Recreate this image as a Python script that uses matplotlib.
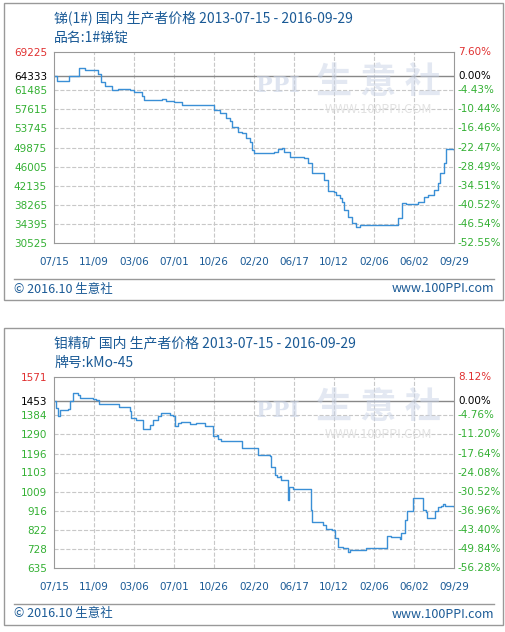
import matplotlib.pyplot as plt
from matplotlib.patches import Rectangle
from matplotlib.lines import Line2D

plt.rcParams['font.family'] = ['Noto Sans CJK SC', 'DejaVu Sans']

date_labels = ['07/15', '11/09', '03/06', '07/01', '10/26', '02/20', '06/17', '10/12', '02/06', '06/02', '09/29']

# panel 1: 锑(1#)
sb_x = [0, 0.08, 0.37, 0.62, 0.78, 1.0, 1.1, 1.18, 1.27, 1.45, 1.6, 1.9, 2.0, 2.2, 2.25, 2.7, 2.8, 3.0,
        3.2, 3.95, 4.0, 4.15, 4.3, 4.4, 4.45, 4.6, 4.7, 4.8, 4.9, 4.95, 5.0, 5.4, 5.5, 5.6, 5.7, 5.75, 5.9,
        6.25, 6.35, 6.45, 6.75, 6.85, 7.0, 7.05, 7.15, 7.2, 7.25, 7.35, 7.45, 7.55, 7.65, 8.2, 8.5, 8.6, 8.7,
        8.8, 9.1, 9.25, 9.35, 9.5, 9.6, 9.65, 9.75, 9.8, 9.95, 10.0]
sb_y = [64333, 63407, 64333, 65970, 65640, 65500, 64830, 63070, 62320, 61580, 61700, 61450, 61040, 60360,
        59550, 59700, 59200, 59070, 58530, 58530, 57520, 56840, 55830, 55150, 54000, 52990, 52780, 51770,
        51090, 49400, 48720, 48720, 49060, 49530, 49740, 49060, 47910, 47710, 46700, 44670, 43310, 41150,
        40950, 40270, 39590, 38920, 37220, 35870, 34520, 33840, 34180, 34180, 34180, 35550, 38580, 38380,
        38920, 39930, 40270, 41290, 42780, 44670, 46700, 49530, 49660, 49400]
sb_ticks = [69225, 64333, 61485, 57615, 53745, 49875, 46005, 42135, 38265, 34395, 30525]
sb_pct = ['7.60%', '0.00%', '-4.43%', '-10.44%', '-16.46%', '-22.47%', '-28.49%', '-34.51%', '-40.52%', '-46.54%', '-52.55%']

# panel 2: 钼精矿
mo_px = [163, 170, 175, 180, 205, 210, 220, 235, 242, 280, 290, 297, 355, 357, 385, 390, 395, 410, 430, 447,
         450, 460, 475, 485, 505, 512, 520, 525, 535, 545, 570, 590, 615, 637, 640, 652, 655, 665, 725, 728,
         772, 775, 805, 812, 815, 825, 832, 840, 845, 865, 866, 868, 880, 928, 935, 938, 965, 970, 978, 998,
         1005, 1015, 1030, 1045, 1050, 1100, 1155, 1162, 1175, 1200, 1205, 1215, 1222, 1238, 1240, 1265,
         1270, 1278, 1282, 1305, 1315, 1325, 1330, 1335, 1362]
mo_y = [1453, 1419, 1378, 1407, 1414, 1452, 1492, 1484, 1468, 1463, 1456, 1438, 1438, 1424, 1424, 1402,
        1370, 1358, 1316, 1316, 1337, 1362, 1378, 1394, 1394, 1386, 1378, 1329, 1344, 1350, 1342, 1345,
        1329, 1329, 1283, 1288, 1267, 1255, 1255, 1222, 1222, 1190, 1190, 1182, 1132, 1092, 1083, 1086,
        1064, 1064, 969, 1032, 1021, 1021, 920, 862, 862, 846, 825, 822, 781, 740, 732, 715, 723, 732, 732,
        792, 786, 776, 805, 871, 912, 912, 977, 977, 920, 908, 879, 912, 933, 939, 949, 939, 936]
mo_x = [(p - 163) / 120 for p in mo_px]
mo_ticks = [1571, 1453, 1384, 1290, 1196, 1103, 1009, 916, 822, 728, 635]
mo_pct = ['8.12%', '0.00%', '-4.76%', '-11.20%', '-17.64%', '-24.08%', '-30.52%', '-36.96%', '-43.40%', '-49.84%', '-56.28%']

W, H = 506, 632
fig = plt.figure(figsize=(W / 100, H / 100), dpi=100)
blue = '#1a5a96'
green = '#33b033'


def panel(top, title, sub, xs, ys, ticks, pcts):
    fig.patches.append(Rectangle((4 / W, 1 - (top + 297) / H), 499 / W, 297 / H, transform=fig.transFigure,
                                 fill=False, ec='#999999', lw=1))
    fig.text(54 / W, 1 - (top + 15) / H, title, color=blue, fontsize=10, va='center')
    fig.text(54 / W, 1 - (top + 35) / H, sub, color=blue, fontsize=10, va='center')
    ax = fig.add_axes([54 / W, 1 - (top + 240) / H, 400 / W, 191 / H])
    ax.set_xlim(0, 10)
    ax.set_ylim(ticks[-1], ticks[0])
    ax.text(0.81, 0.84, '生 意 社', transform=ax.transAxes, fontsize=26, color='#c9d3e6', alpha=0.5,
            ha='center', va='center', fontweight='bold')
    ax.text(0.56, 0.82, 'PPI', transform=ax.transAxes, fontsize=16, color='#c9d3e6', alpha=0.6,
            ha='center', va='center', fontweight='bold', family='DejaVu Serif')
    ax.text(0.81, 0.7, 'WWW.100PPI.COM', transform=ax.transAxes, fontsize=9, color='#e2e2e2',
            ha='center', va='center')
    for i in range(1, 10):
        ax.axvline(i, color='#c8c8c8', ls='--', lw=0.8)
    for t in ticks[2:-1]:
        ax.axhline(t, color='#c8c8c8', ls='--', lw=0.8)
    ax.axhline(ticks[1], color='#888888', lw=1)
    ax.plot(xs, ys, color='#3a8fd6', lw=1, drawstyle='steps-post')
    ax.set_xticks(range(11))
    ax.set_xticklabels(date_labels, fontsize=7.5, color=blue, family='DejaVu Sans')
    ax.set_yticks(ticks)
    ax.set_yticklabels([str(t) for t in ticks], fontsize=7.5, family='DejaVu Sans')
    ax.tick_params(length=0, pad=5)
    ax.tick_params(axis='x', pad=10)
    cols = ['#e03030', 'black'] + [green] * 9
    for lab, c in zip(ax.get_yticklabels(), cols):
        lab.set_color(c)
    for t, p, c in zip(ticks, pcts, cols):
        ax.text(1.01, t, p, transform=ax.get_yaxis_transform(), color=c, fontsize=7.5, va='center',
                family='DejaVu Sans')
    for s in ax.spines.values():
        s.set_color('#999999')
    fig.lines.append(Line2D([14 / W, 494 / W], [1 - (top + 276) / H] * 2, transform=fig.transFigure,
                            color='#999999', lw=1))
    fig.text(14 / W, 1 - (top + 286) / H, '© 2016.10 生意社', color=blue, fontsize=9, va='center')
    fig.text(494 / W, 1 - (top + 286) / H, 'www.100PPI.com', color=blue, fontsize=9, va='center', ha='right')


panel(3, '锑(1#) 国内 生产者价格 2013-07-15 - 2016-09-29', '品名:1#锑锭', sb_x, sb_y, sb_ticks, sb_pct)
panel(328, '钼精矿 国内 生产者价格 2013-07-15 - 2016-09-29', '牌号:kMo-45', mo_x, mo_y, mo_ticks, mo_pct)

fig.savefig('out.png', dpi=100)
